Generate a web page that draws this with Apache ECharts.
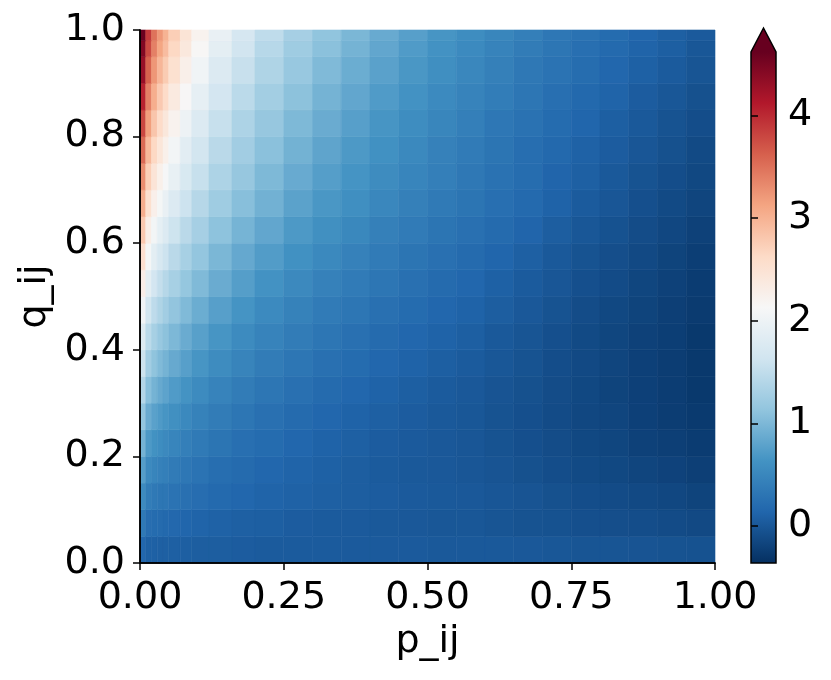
<!DOCTYPE html>
<html>
<head>
<meta charset="utf-8">
<script src="https://cdn.jsdelivr.net/npm/echarts@6/dist/echarts.min.js"></script>
<style>html,body{margin:0;padding:0;background:#fff;}#chart{width:831px;height:680px;}</style>
</head>
<body>
<div id="chart"></div>
<script>
// cell edges along p_ij (x) and q_ij (y)
const pEdges = [0,0.01,0.02,0.03,0.04,0.05,0.07,0.09,0.12,0.16,0.20,0.25,0.30,0.35,0.40,0.45,0.50,0.55,0.60,0.65,0.70,0.75,0.80,0.85,0.90,0.95,1.00];
const qEdges = [0,0.05,0.10,0.15,0.20,0.25,0.30,0.35,0.40,0.45,0.50,0.55,0.60,0.65,0.70,0.75,0.80,0.85,0.90,0.95,0.98,1.00];
// values, one row per q band (bottom to top), one entry per p band
const row01 = [0.15,0.09,0.09,0.08,0.08,0.08,0.07,0.06,0.06,0.05,0.04,0.04,0.04,0.03,0.03,0.03,0.02,0.02,0.02,0.01,0.00,-0.02,-0.02,-0.03,-0.04,-0.05];
const row02 = [0.35,0.22,0.20,0.19,0.17,0.16,0.14,0.12,0.10,0.08,0.07,0.05,0.04,0.03,0.02,0.01,0.00,0.00,-0.02,-0.04,-0.05,-0.07,-0.08,-0.09,-0.11,-0.13];
const row03 = [0.55,0.39,0.35,0.32,0.31,0.28,0.25,0.22,0.18,0.15,0.12,0.10,0.08,0.06,0.05,0.03,0.02,0.01,-0.01,-0.03,-0.06,-0.09,-0.11,-0.13,-0.15,-0.18];
const row04 = [0.75,0.54,0.48,0.44,0.41,0.37,0.33,0.28,0.23,0.19,0.15,0.12,0.09,0.06,0.04,0.02,0.01,-0.01,-0.03,-0.06,-0.09,-0.12,-0.14,-0.17,-0.19,-0.22];
const row05 = [0.95,0.70,0.62,0.57,0.53,0.48,0.42,0.36,0.30,0.24,0.20,0.15,0.11,0.08,0.05,0.03,0.01,-0.01,-0.04,-0.07,-0.10,-0.14,-0.16,-0.20,-0.22,-0.25];
const row06 = [1.15,0.88,0.78,0.71,0.66,0.60,0.52,0.45,0.38,0.31,0.25,0.19,0.15,0.11,0.08,0.05,0.02,0.00,-0.04,-0.07,-0.11,-0.15,-0.17,-0.21,-0.24,-0.27];
const row07 = [1.40,1.07,0.95,0.86,0.80,0.72,0.64,0.55,0.46,0.38,0.31,0.25,0.19,0.15,0.11,0.07,0.04,0.01,-0.03,-0.06,-0.10,-0.14,-0.18,-0.21,-0.24,-0.28];
const row08 = [1.60,1.26,1.12,1.02,0.95,0.86,0.76,0.66,0.56,0.47,0.38,0.31,0.25,0.20,0.15,0.11,0.07,0.04,0.00,-0.04,-0.09,-0.13,-0.17,-0.21,-0.24,-0.28];
const row09 = [1.80,1.46,1.30,1.18,1.10,1.00,0.88,0.77,0.66,0.55,0.46,0.38,0.31,0.25,0.19,0.15,0.11,0.07,0.02,-0.02,-0.07,-0.12,-0.16,-0.20,-0.23,-0.28];
const row10 = [2.05,1.66,1.48,1.36,1.26,1.14,1.02,0.89,0.76,0.65,0.54,0.45,0.37,0.31,0.25,0.20,0.15,0.11,0.06,0.01,-0.04,-0.10,-0.14,-0.18,-0.22,-0.26];
const row11 = [2.30,1.88,1.67,1.53,1.42,1.30,1.16,1.02,0.88,0.75,0.63,0.53,0.44,0.37,0.31,0.25,0.19,0.15,0.09,0.04,-0.01,-0.07,-0.11,-0.16,-0.20,-0.25];
const row12 = [2.55,2.09,1.87,1.71,1.60,1.45,1.30,1.15,0.99,0.85,0.73,0.61,0.52,0.44,0.37,0.30,0.25,0.19,0.14,0.08,0.02,-0.04,-0.08,-0.13,-0.18,-0.23];
const row13 = [2.80,2.31,2.07,1.90,1.77,1.61,1.45,1.29,1.11,0.96,0.83,0.70,0.60,0.51,0.43,0.37,0.30,0.25,0.19,0.13,0.06,0.00,-0.05,-0.10,-0.15,-0.20];
const row14 = [3.05,2.54,2.27,2.09,1.95,1.78,1.60,1.42,1.24,1.07,0.93,0.79,0.68,0.59,0.50,0.43,0.36,0.30,0.24,0.18,0.11,0.04,-0.01,-0.07,-0.12,-0.17];
const row15 = [3.30,2.74,2.46,2.26,2.11,1.93,1.73,1.55,1.35,1.17,1.01,0.87,0.75,0.65,0.56,0.48,0.41,0.34,0.27,0.21,0.13,0.08,0.02,-0.04,-0.09,-0.14];
const row16 = [3.55,2.95,2.65,2.44,2.26,2.07,1.86,1.66,1.45,1.26,1.09,0.94,0.81,0.70,0.61,0.52,0.44,0.37,0.30,0.23,0.17,0.10,0.05,-0.01,-0.06,-0.12];
const row17 = [3.80,3.17,2.83,2.61,2.42,2.22,2.00,1.78,1.55,1.35,1.17,1.01,0.88,0.76,0.66,0.57,0.49,0.41,0.33,0.27,0.20,0.14,0.07,0.02,-0.04,-0.09];
const row18 = [4.05,3.39,3.04,2.79,2.61,2.37,2.14,1.91,1.67,1.46,1.27,1.10,0.95,0.83,0.72,0.63,0.54,0.46,0.39,0.31,0.24,0.17,0.12,0.05,0.00,-0.06];
const row19 = [4.30,3.61,3.23,2.97,2.77,2.53,2.28,2.04,1.78,1.56,1.36,1.18,1.02,0.89,0.78,0.68,0.59,0.50,0.43,0.34,0.28,0.21,0.15,0.09,0.04,-0.02];
const row20 = [4.45,3.78,3.39,3.12,2.91,2.65,2.40,2.15,1.88,1.64,1.43,1.24,1.09,0.95,0.83,0.72,0.63,0.54,0.46,0.38,0.31,0.24,0.18,0.12,0.07,0.00];
const row21 = [4.60,3.89,3.49,3.22,3.00,2.74,2.47,2.22,1.94,1.70,1.49,1.29,1.13,0.99,0.87,0.76,0.66,0.57,0.49,0.41,0.33,0.27,0.20,0.14,0.08,0.03];
const rows = [row01,row02,row03,row04,row05,row06,row07,row08,row09,row10,row11,row12,row13,row14,row15,row16,row17,row18,row19,row20,row21];

const cbarTicks = [0, 1, 2, 3, 4];
const cbarMin = -0.36, cbarMax = 4.62;

const RdBu_r = ['#053061','#2166ac','#4393c3','#92c5de','#d1e5f0','#f7f7f7','#fddbc7','#f4a582','#d6604d','#b2182b','#67001f'];

const data = [];
rows.forEach((row, j) => {
  row.forEach((v, i) => {
    data.push([pEdges[i], pEdges[i+1], qEdges[j], qEdges[j+1], v]);
  });
});

const FONT = 'DejaVu Sans';
const FS = 38;
const PL = 140, PR = 715, PT = 30, PB = 563;
const CL = 751, CW = 25, CT = 52, CB = 563;

const chart = echarts.init(document.getElementById('chart'), null, {renderer: 'canvas'});
const axisLine = {show: true, lineStyle: {color: '#000', width: 1.5}};
chart.setOption({
  animation: false,
  backgroundColor: '#fff',
  grid: [
    {left: PL, top: PT, width: PR - PL, height: PB - PT},
    {left: CL, top: CT, width: CW, height: CB - CT}
  ],
  xAxis: [
    {type: 'value', gridIndex: 0, min: 0, max: 1, interval: 0.25, position: 'bottom', z: 10,
     axisLine: axisLine, splitLine: {show: false},
     axisTick: {show: true, length: 7, lineStyle: {color: '#000', width: 1.5}},
     axisLabel: {color: '#000', fontFamily: FONT, fontSize: FS, margin: 16, formatter: v => v.toFixed(2)},
     name: 'p_ij', nameLocation: 'middle', nameGap: 60,
     nameTextStyle: {color: '#000', fontFamily: FONT, fontSize: FS}},
    {type: 'value', gridIndex: 0, min: 0, max: 1, position: 'top', z: 10,
     axisLine: axisLine, axisTick: {show: false}, axisLabel: {show: false}, splitLine: {show: false}},
    {type: 'value', gridIndex: 1, min: 0, max: 1, show: false}
  ],
  yAxis: [
    {type: 'value', gridIndex: 0, min: 0, max: 1, interval: 0.2, position: 'left', z: 10,
     axisLine: axisLine, splitLine: {show: false},
     axisTick: {show: true, length: 7, lineStyle: {color: '#000', width: 1.5}},
     axisLabel: {color: '#000', fontFamily: FONT, fontSize: FS, margin: 15, formatter: v => v.toFixed(1)},
     name: 'q_ij', nameLocation: 'middle', nameGap: 84, nameRotate: 90,
     nameTextStyle: {color: '#000', fontFamily: FONT, fontSize: FS}},
    {type: 'value', gridIndex: 0, min: 0, max: 1, position: 'right', z: 10,
     axisLine: axisLine, axisTick: {show: false}, axisLabel: {show: false}, splitLine: {show: false}},
    {type: 'value', gridIndex: 1, min: cbarMin, max: cbarMax, position: 'right', z: 10,
     axisLine: {show: false}, splitLine: {show: false},
     axisTick: {show: true, length: 7, lineStyle: {color: '#000', width: 1.5}, customValues: cbarTicks},
     axisLabel: {color: '#000', fontFamily: FONT, fontSize: FS, margin: 12, customValues: cbarTicks, formatter: v => String(Math.round(v))}}
  ],
  visualMap: {
    show: false, type: 'continuous', min: cbarMin, max: cbarMax, dimension: 4, seriesIndex: 0,
    inRange: {color: RdBu_r}
  },
  series: [{
    type: 'custom',
    xAxisIndex: 0, yAxisIndex: 0,
    encode: {x: [0, 1], y: [2, 3]},
    data: data,
    renderItem: function (params, api) {
      const a = api.coord([api.value(0), api.value(2)]);
      const b = api.coord([api.value(1), api.value(3)]);
      const c = api.visual('color');
      return {
        type: 'rect',
        shape: {x: a[0], y: b[1], width: b[0] - a[0], height: a[1] - b[1]},
        style: {fill: c, stroke: c, lineWidth: 0.6}
      };
    }
  }],
  graphic: [
    {type: 'rect', z: 1, shape: {x: CL, y: CT, width: CW, height: CB - CT},
     style: {fill: new echarts.graphic.LinearGradient(0, 1, 0, 0,
       RdBu_r.map((c, i) => ({offset: i / (RdBu_r.length - 1), color: c})))}},
    {type: 'polygon', z: 1, shape: {points: [[CL, CT], [CL + CW, CT], [CL + CW / 2, 28]]},
     style: {fill: '#67001f'}},
    {type: 'polygon', z: 20, shape: {points: [[CL, CB], [CL, CT], [CL + CW / 2, 28], [CL + CW, CT], [CL + CW, CB]]},
     style: {fill: null, stroke: '#000', lineWidth: 1.5}}
  ]
});
</script>
</body>
</html>
